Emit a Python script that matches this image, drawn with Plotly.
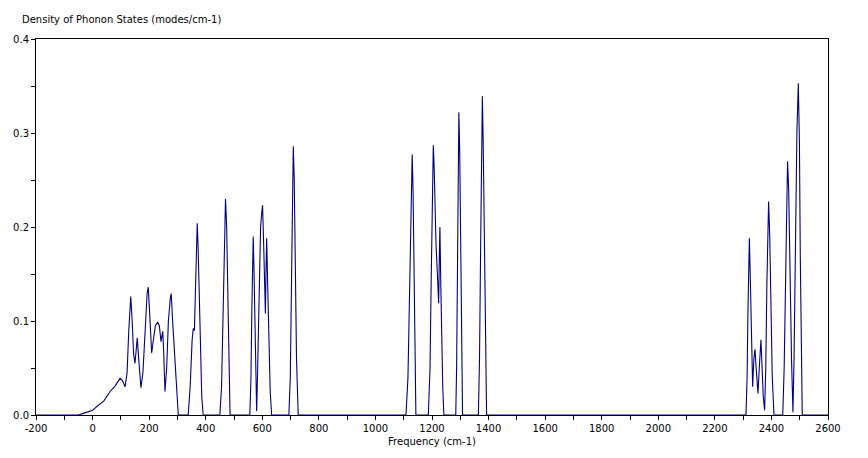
import plotly.graph_objects as go

# Frequencies (cm-1) and phonon density of states
freq = [
    -200, -50, -30, 0, 15, 40, 62, 80, 97, 105, 115, 122, 128, 135, 140, 145, 150, 154, 158, 163,
    171, 178, 186, 193, 197, 201, 205, 209, 215, 222, 230, 236, 242, 248, 251, 256, 262, 268, 275, 278,
    283, 290, 297, 303,
    338, 345, 352, 356, 360, 364, 368, 370, 373, 377, 382, 386, 391,
    450, 456, 461, 466, 470, 474, 478, 482, 486,
    556, 560, 563, 566, 568, 571, 575, 578, 580, 583, 588, 594, 598, 601, 605, 609, 611, 613, 615.5,
    619, 624, 628, 633,
    694, 699, 703, 707, 709.6, 713, 717, 721, 727,
    1108, 1115, 1120, 1125, 1128, 1130, 1133, 1136, 1139, 1143,
    1187, 1193, 1197, 1201, 1204.6, 1208, 1211, 1214, 1219, 1223.6, 1226, 1228, 1231, 1235, 1238, 1242,
    1284, 1287, 1290, 1293, 1295, 1298, 1301, 1304, 1308,
    1364, 1368, 1372, 1375, 1378, 1381, 1385, 1389, 1393,
    2310, 2314, 2317, 2320, 2322, 2325, 2329, 2333.6, 2338, 2342, 2346, 2352.4, 2357, 2363, 2367,
    2371, 2376, 2380, 2384, 2388, 2390, 2394, 2398, 2403, 2409,
    2440, 2445, 2450, 2454, 2457, 2461, 2466, 2471, 2476, 2480, 2485, 2490, 2495, 2499, 2502, 2505,
    2509, 2600,
]
dos = [
    0, 0, 0.002, 0.005, 0.009, 0.015, 0.025, 0.031, 0.039, 0.037, 0.030, 0.045, 0.09, 0.126, 0.10,
    0.065, 0.055, 0.07, 0.082, 0.06,
    0.029, 0.045, 0.10, 0.13, 0.136, 0.11, 0.08, 0.066, 0.08, 0.095, 0.099, 0.095, 0.078, 0.089, 0.07,
    0.025, 0.05, 0.10, 0.125, 0.129,
    0.10, 0.06, 0.02, 0,
    0, 0.03, 0.08, 0.092, 0.09, 0.14, 0.19, 0.204, 0.18, 0.12, 0.06, 0.02, 0,
    0, 0.03, 0.10, 0.19, 0.23, 0.20, 0.12, 0.04, 0,
    0, 0.04, 0.11, 0.17, 0.19, 0.15, 0.07, 0.02, 0.004, 0.04, 0.13, 0.20, 0.215, 0.223, 0.18, 0.12,
    0.108, 0.15, 0.188,
    0.14, 0.07, 0.025, 0,
    0, 0.04, 0.13, 0.24, 0.286, 0.25, 0.15, 0.06, 0,
    0, 0.04, 0.12, 0.22, 0.265, 0.277, 0.24, 0.15, 0.06, 0,
    0, 0.05, 0.14, 0.24, 0.287, 0.26, 0.22, 0.183, 0.15, 0.119, 0.17, 0.20, 0.14, 0.07, 0.03, 0,
    0, 0.05, 0.16, 0.27, 0.322, 0.28, 0.17, 0.07, 0,
    0, 0.06, 0.18, 0.29, 0.339, 0.29, 0.17, 0.06, 0,
    0, 0.04, 0.11, 0.17, 0.188, 0.15, 0.07, 0.03, 0.06, 0.07, 0.05, 0.023, 0.05, 0.08, 0.05,
    0.02, 0.005, 0.05, 0.14, 0.21, 0.227, 0.19, 0.11, 0.04, 0,
    0, 0.05, 0.16, 0.25, 0.27, 0.24, 0.14, 0.06, 0.003, 0.06, 0.18, 0.30, 0.353, 0.29, 0.17, 0.06,
    0, 0,
]

x_ticks = list(range(-200, 2601, 200))
y_ticks = [0.0, 0.1, 0.2, 0.3, 0.4]

font_family = "DejaVu Sans"

fig = go.Figure()
fig.add_trace(go.Scatter(
    x=freq, y=dos, mode="lines",
    line=dict(color="#000080", width=1.1),
    showlegend=False, hoverinfo="x+y",
))

fig.update_layout(
    width=868, height=458,
    margin=dict(l=28, r=48, t=31, b=51, autoexpand=False),
    paper_bgcolor="white", plot_bgcolor="white",
    font=dict(family=font_family, size=10, color="black"),
    annotations=[dict(
        text="Density of Phonon States (modes/cm-1)",
        xref="paper", yref="paper", x=-0.0202, y=1, yshift=20,
        xanchor="left", yanchor="middle", showarrow=False,
        font=dict(family=font_family, size=10, color="black"),
    )],
)
fig.update_xaxes(
    range=[-200, 2600], tickvals=x_ticks, ticktext=[str(v) for v in x_ticks],
    showgrid=False, zeroline=False, automargin=False,
    showline=True, linecolor="black", linewidth=1, mirror=True,
    ticks="outside", ticklen=4, tickcolor="black",
    minor=dict(dtick=100, ticks="outside", ticklen=4, tickcolor="black", showgrid=False),
    title=dict(text="Frequency (cm-1)", standoff=4, font=dict(family=font_family, size=10)),
)
fig.update_yaxes(
    range=[0, 0.4], tickvals=y_ticks, ticktext=[f"{v:.1f}" for v in y_ticks],
    showgrid=False, zeroline=False, automargin=False,
    showline=True, linecolor="black", linewidth=1, mirror=True,
    ticks="outside", ticklen=4, tickcolor="black",
    minor=dict(dtick=0.05, ticks="outside", ticklen=4, tickcolor="black", showgrid=False),
)

fig.write_html("out.html")
